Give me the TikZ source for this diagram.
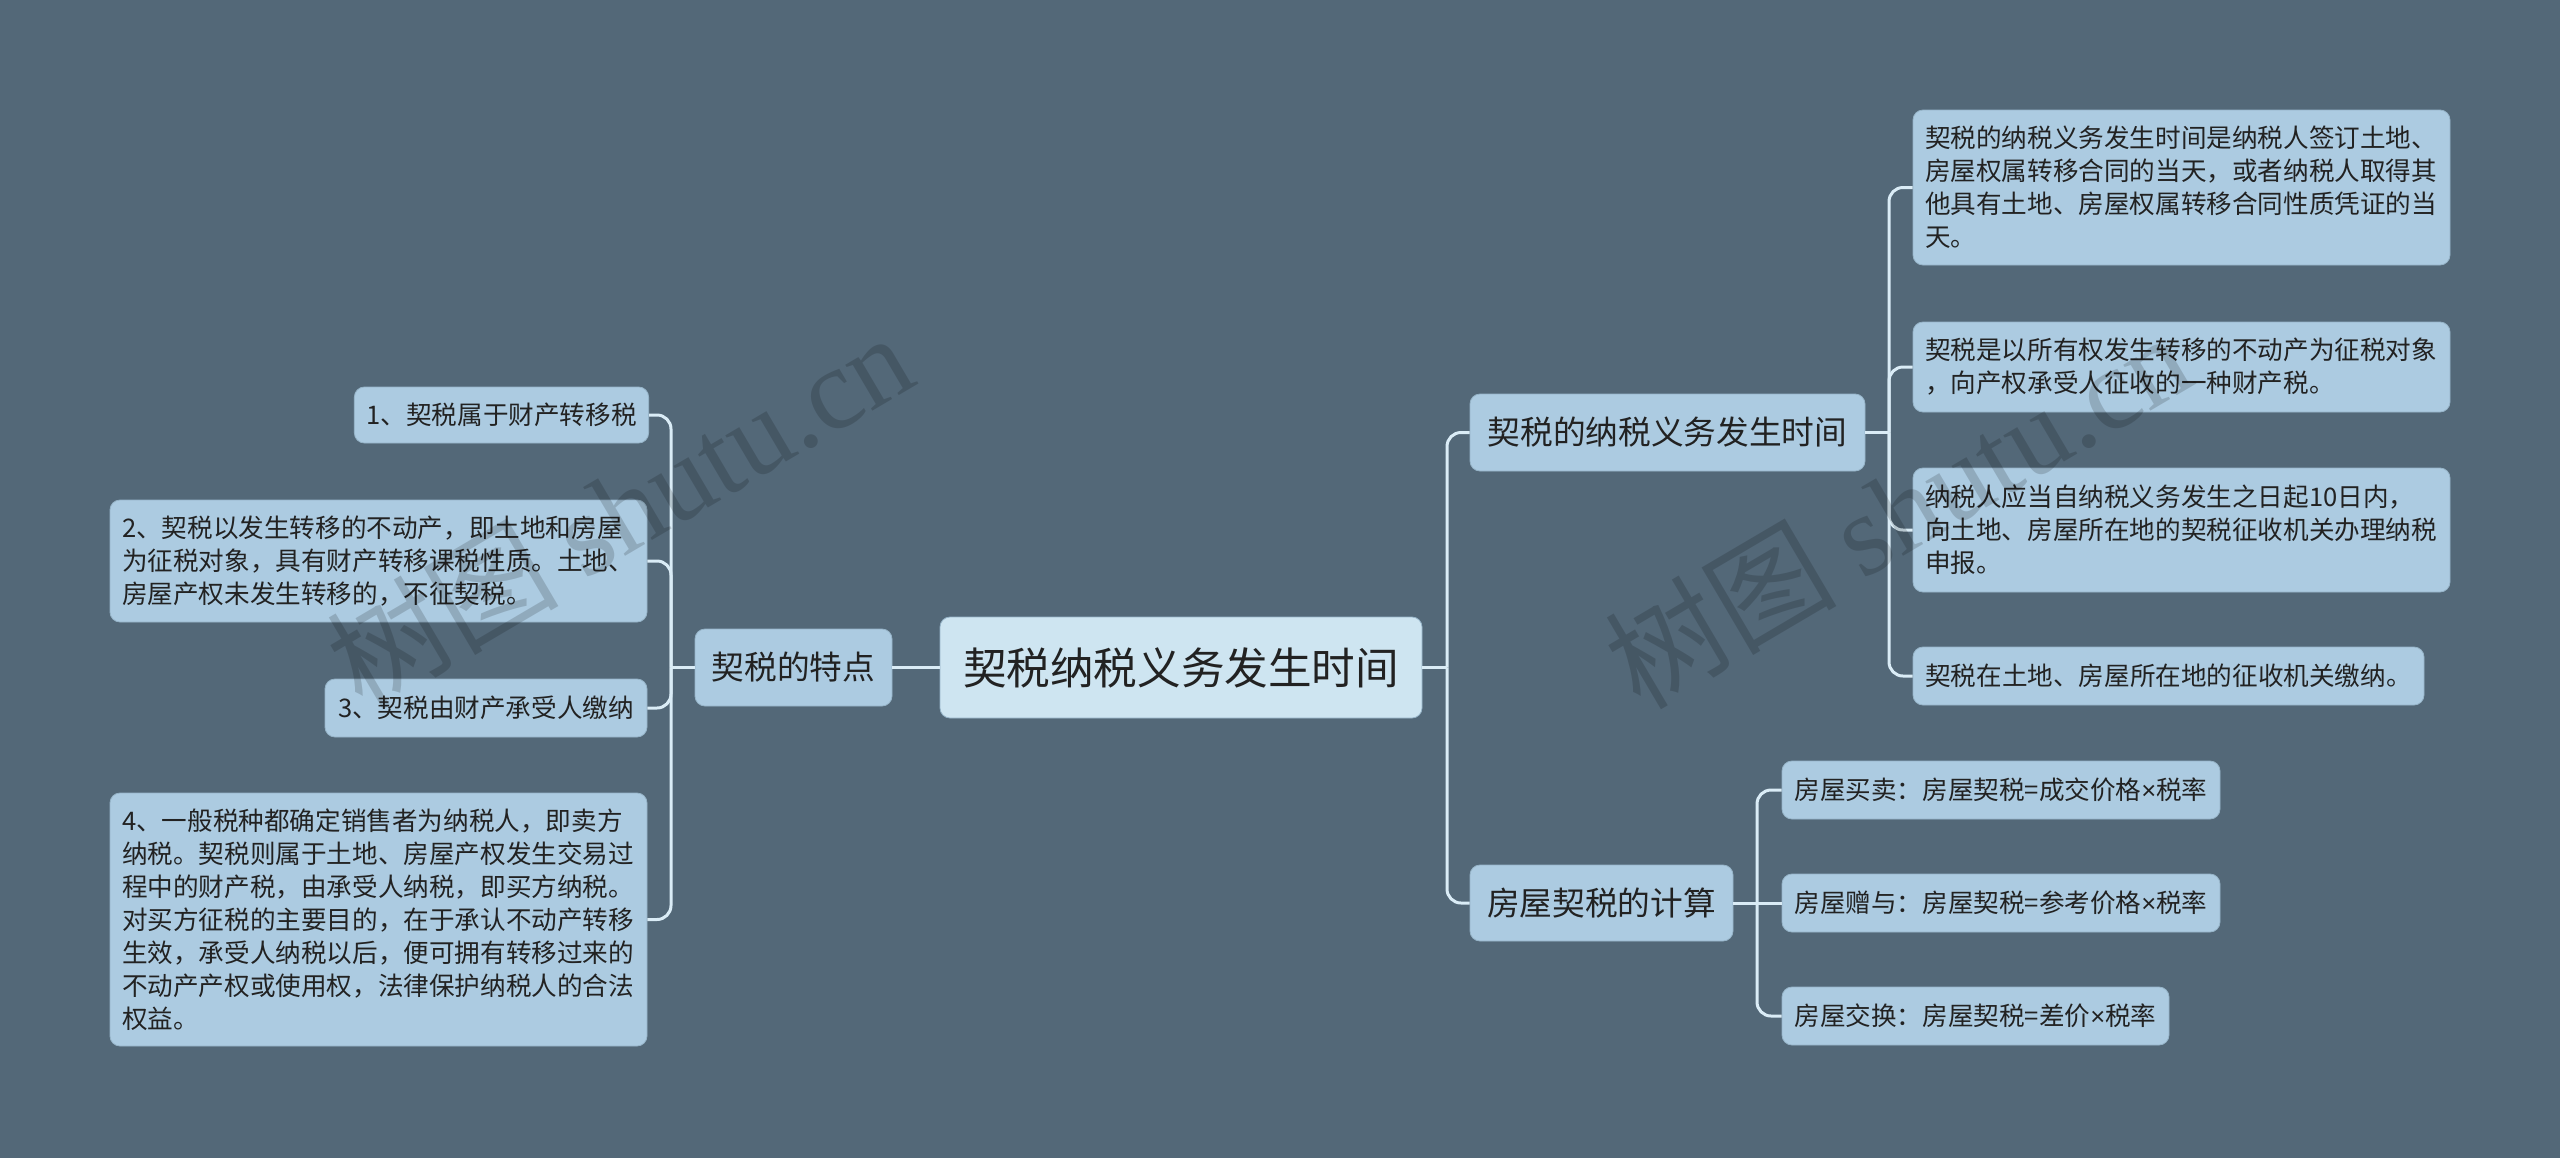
\documentclass[tikz,border=0pt]{standalone}
\usepackage{fontspec}
\setmainfont{Noto Sans CJK SC}
\newfontfamily\wmserif{Liberation Serif}
\newfontfamily\wmcjk{Noto Sans CJK SC}
\newfontfamily\latinf{Liberation Sans}
\newcommand{\timesx}{{\latinf ×}}
\definecolor{bgc}{RGB}{83,104,120}
\definecolor{nodec}{RGB}{172,203,225}
\definecolor{rootc}{RGB}{206,229,241}
\definecolor{linec}{RGB}{218,236,246}
\definecolor{txtc}{RGB}{34,34,34}
\definecolor{edgec}{RGB}{150,180,200}
\begin{document}
\begin{tikzpicture}[x=0.5pt,y=-0.5pt,
  box/.style={rounded corners=5pt, inner xsep=6pt, inner ysep=0pt, text=txtc, draw=edgec, line width=0.4pt},
  leaf/.style={box, fill=nodec, font=\fontsize{12.8}{16.5}\selectfont, align=left},
  mleaf/.style={leaf, text width=256.5pt},
  branch/.style={box, fill=nodec, font=\fontsize{16.35}{20}\selectfont},
  rootn/.style={box, fill=rootc, font=\fontsize{21.8}{26}\selectfont},
  conn/.style={draw=linec, line width=1.5pt},
  wmark/.style={text=black, opacity=0.16, anchor=base west, rotate=30.5, inner sep=0pt}
]
\fill[bgc] (0,0) rectangle (2560,1158);
\useasboundingbox (0,0) rectangle (2560,1158);

% nodes
\node[rootn, minimum width=241pt, minimum height=50.5pt] (root) at (1181,667.5) {契税纳税义务发生时间};
\node[branch, minimum width=98.5pt, minimum height=38.5pt] (L) at (793.5,667.5) {契税的特点};
\node[branch, minimum width=197.5pt, minimum height=38.5pt] (B1) at (1667.5,432.5) {契税的纳税义务发生时间};
\node[branch, minimum width=131.5pt, minimum height=38pt] (B2) at (1601.5,903) {房屋契税的计算};

\node[leaf, minimum width=145.5pt, minimum height=28pt] (L1) at (501.5,415) {1、契税属于财产转移税};
\node[mleaf, minimum width=268.5pt, minimum height=61pt] (L2) at (378.5,561) {2、契税以发生转移的不动产，即土地和房屋\\为征税对象，具有财产转移课税性质。土地、\\房屋产权未发生转移的，不征契税。};
\node[leaf, minimum width=161pt, minimum height=29pt] (L3) at (486,708) {3、契税由财产承受人缴纳};
\node[mleaf, minimum width=268.5pt, minimum height=126.5pt] (L4) at (378.5,919.5) {4、一般税种都确定销售者为纳税人，即卖方\\纳税。契税则属于土地、房屋产权发生交易过\\程中的财产税，由承受人纳税，即买方纳税。\\对买方征税的主要目的，在于承认不动产转移\\生效，承受人纳税以后，便可拥有转移过来的\\不动产产权或使用权，法律保护纳税人的合法\\权益。};

\node[mleaf, minimum width=268.5pt, minimum height=77.5pt] (R1) at (2181.5,187.5) {契税的纳税义务发生时间是纳税人签订土地、\\房屋权属转移合同的当天，或者纳税人取得其\\他具有土地、房屋权属转移合同性质凭证的当\\天。};
\node[mleaf, minimum width=268.5pt, minimum height=45pt] (R2) at (2181.5,367) {契税是以所有权发生转移的不动产为征税对象\\，向产权承受人征收的一种财产税。};
\node[mleaf, minimum width=268.5pt, minimum height=62pt] (R3) at (2181.5,530) {纳税人应当自纳税义务发生之日起10日内，\\向土地、房屋所在地的契税征收机关办理纳税\\申报。};
\node[leaf, minimum width=255.5pt, minimum height=29pt] (R4) at (2168.5,676) {契税在土地、房屋所在地的征收机关缴纳。};

\node[leaf, minimum width=219pt, minimum height=29pt] (C1) at (2001,790) {房屋买卖：房屋契税=成交价格\timesx 税率};
\node[leaf, minimum width=219pt, minimum height=29pt] (C2) at (2001,903) {房屋赠与：房屋契税=参考价格\timesx 税率};
\node[leaf, minimum width=193.5pt, minimum height=29pt] (C3) at (1975.5,1016) {房屋交换：房屋契税=差价\timesx 税率};

% connectors
\coordinate (tL) at (671,667.5);
\coordinate (tR) at (1447,667.5);
\coordinate (tB1) at (1889,432.5);
\coordinate (tB2) at (1757,903);

\draw[conn] (root.west) -- (L.east);
\draw[conn] (L.west) -- (tL);
\foreach \c in {L1,L2,L3,L4}
  \draw[conn, rounded corners=7pt] (tL) -- (tL |- \c.east) -- (\c.east);

\draw[conn] (root.east) -- (tR);
\foreach \c in {B1,B2}
  \draw[conn, rounded corners=7pt] (tR) -- (tR |- \c.west) -- (\c.west);

\draw[conn] (B1.east) -- (tB1);
\foreach \c in {R1,R2,R3,R4}
  \draw[conn, rounded corners=7pt] (tB1) -- (tB1 |- \c.west) -- (\c.west);

\draw[conn] (B2.east) -- (C2.west);
\foreach \c in {C1,C3}
  \draw[conn, rounded corners=7pt] (tB2) -- (tB2 |- \c.west) -- (\c.west);

% watermarks
\node[wmark] (wm1) at (362,712) {\fontsize{58}{58}\selectfont\wmcjk 树图 {\wmserif shutu.cn}};
\node[wmark] (wm2) at (1640,712) {\fontsize{58}{58}\selectfont\wmcjk 树图 {\wmserif shutu.cn}};
\end{tikzpicture}
\end{document}
